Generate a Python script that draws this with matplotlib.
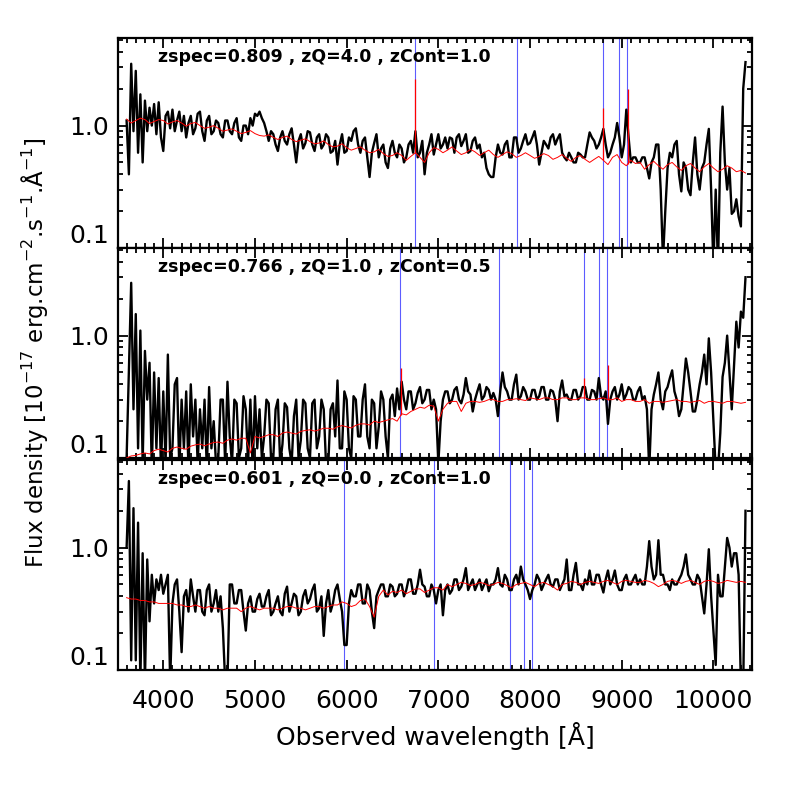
import numpy as np
import matplotlib
matplotlib.use("Agg")
import matplotlib.pyplot as plt
from matplotlib.ticker import FixedLocator, FixedFormatter, MultipleLocator, LogLocator, NullFormatter

# observed wavelength grids [A]
wave = np.arange(3600, 10375, 25)
model_wave = np.arange(3600, 10400, 50)

# rest wavelengths of the marked lines: [OII], Hgamma, Hbeta, [OIII] x2
line_rest = [3727, 4341, 4861, 4959, 5007]

zspec = [0.809, 0.766, 0.601]
zq = [4.0, 1.0, 0.0]
zcont = [1.0, 0.5, 1.0]

# panel 1: spectrum (black), 20 values per 500 A row
flux_top = [1.10, 0.40, 3.20, 0.90, 2.80, 0.60, 1.80, 0.50, 1.60, 0.90, 1.40, 1.00, 1.50, 0.85, 1.55, 0.80, 0.62, 1.20, 1.30, 0.95,
            1.35, 0.90, 1.10, 1.30, 0.90, 1.20, 0.80, 1.05, 1.20, 0.85, 0.95, 1.25, 1.30, 0.90, 0.75, 1.10, 1.20, 0.85, 0.90, 1.10,
            1.05, 0.85, 0.80, 1.10, 1.10, 0.90, 0.85, 1.05, 1.15, 0.80, 0.75, 1.00, 1.00, 0.85, 1.15, 1.00, 1.25, 1.20, 1.30, 1.15,
            1.05, 0.90, 0.75, 0.90, 0.85, 0.70, 0.62, 0.80, 0.90, 0.75, 0.70, 0.85, 0.95, 0.70, 0.50, 0.75, 0.85, 0.65, 0.72, 0.90,
            0.88, 0.70, 0.62, 0.80, 0.85, 0.65, 0.70, 0.85, 0.80, 0.60, 0.62, 0.75, 0.48, 0.70, 0.85, 0.60, 0.62, 0.80, 0.75, 0.90,
            0.95, 0.70, 0.60, 0.75, 0.80, 0.55, 0.38, 0.60, 0.72, 0.85, 0.55, 0.65, 0.70, 0.50, 0.45, 0.65, 0.75, 0.60, 0.55, 0.70,
            0.65, 0.50, 0.55, 0.70, 0.75, 0.60, 0.90, 0.55, 0.60, 0.75, 0.40, 0.60, 0.70, 0.85, 0.58, 0.70, 0.85, 0.65, 0.70, 0.80,
            0.65, 0.80, 0.78, 0.60, 0.80, 0.85, 0.68, 0.75, 0.85, 0.60, 0.62, 0.75, 0.80, 0.65, 0.70, 0.55, 0.60, 0.45, 0.40, 0.38,
            0.38, 0.55, 0.70, 0.60, 0.58, 0.70, 0.75, 0.55, 0.55, 0.80, 0.80, 0.60, 0.65, 0.75, 0.85, 0.70, 0.72, 0.80, 0.90, 0.70,
            0.48, 0.60, 0.75, 0.70, 0.65, 0.80, 0.85, 0.70, 0.78, 0.85, 0.60, 0.55, 0.52, 0.60, 0.55, 0.50, 0.50, 0.60, 0.58, 0.55,
            0.55, 0.70, 0.88, 0.80, 0.75, 0.65, 0.70, 0.80, 0.94, 0.70, 0.55, 0.60, 0.70, 0.80, 1.05, 0.80, 0.55, 0.70, 1.35, 0.80,
            0.50, 0.55, 0.55, 0.50, 0.50, 0.55, 0.55, 0.45, 0.37, 0.50, 0.55, 0.70, 0.70, 0.30, 0.08, 0.20, 0.45, 0.60, 0.55, 0.70,
            0.75, 0.40, 0.29, 0.50, 0.45, 0.30, 0.27, 0.50, 0.80, 0.40, 0.30, 0.45, 0.50, 0.70, 0.94, 0.30, 0.07, 0.30, 0.07, 0.60,
            1.43, 0.50, 0.30, 0.45, 0.19, 0.20, 0.25, 0.18, 0.15, 2.00, 3.30]
# panel 1: model (red), 10 values per 500 A row
model_top = [1.13, 1.05, 1.10, 1.15, 1.12, 1.04, 1.08, 1.12, 1.10, 1.03,
             1.07, 1.10, 1.05, 0.99, 1.04, 1.06, 1.00, 0.95, 0.97, 1.00,
             0.95, 0.90, 0.92, 0.94, 0.90, 0.86, 0.88, 0.91, 0.86, 0.83,
             0.82, 0.84, 0.80, 0.77, 0.80, 0.82, 0.77, 0.74, 0.76, 0.78,
             0.74, 0.71, 0.72, 0.75, 0.70, 0.67, 0.68, 0.71, 0.66, 0.63,
             0.65, 0.67, 0.63, 0.60, 0.61, 0.64, 0.59, 0.56, 0.57, 0.60,
             0.57, 0.52, 0.56, 0.60, 0.55, 0.50, 0.60, 0.66, 0.64, 0.60,
             0.63, 0.67, 0.62, 0.58, 0.60, 0.64, 0.61, 0.57, 0.60, 0.63,
             0.58, 0.55, 0.58, 0.61, 0.59, 0.55, 0.57, 0.60, 0.57, 0.54,
             0.56, 0.59, 0.57, 0.53, 0.55, 0.58, 0.54, 0.51, 0.55, 0.57,
             0.53, 0.50, 0.53, 0.56, 0.52, 0.48, 0.55, 0.58, 0.50, 0.47,
             0.52, 0.49, 0.50, 0.44, 0.48, 0.51, 0.47, 0.44, 0.48, 0.50,
             0.46, 0.43, 0.47, 0.49, 0.45, 0.42, 0.46, 0.49, 0.45, 0.42,
             0.44, 0.47, 0.45, 0.42, 0.43, 0.41]
peaks_top = [(6746, 2.4), (8800, 1.4), (9066, 2.0)]

# panel 2
flux_mid = [0.10, 0.50, 2.70, 0.25, 1.50, 0.12, 1.10, 0.09, 0.75, 0.30, 0.60, 0.08, 0.50, 0.12, 0.45, 0.08, 0.35, 0.09, 0.70, 0.10,
            0.12, 0.40, 0.45, 0.08, 0.30, 0.12, 0.35, 0.08, 0.40, 0.15, 0.30, 0.09, 0.25, 0.12, 0.30, 0.08, 0.38, 0.12, 0.20, 0.09,
            0.10, 0.30, 0.30, 0.09, 0.42, 0.15, 0.09, 0.30, 0.28, 0.10, 0.12, 0.32, 0.25, 0.09, 0.30, 0.08, 0.32, 0.12, 0.25, 0.10,
            0.15, 0.30, 0.28, 0.10, 0.10, 0.25, 0.30, 0.09, 0.13, 0.28, 0.26, 0.12, 0.09, 0.22, 0.30, 0.10, 0.14, 0.30, 0.28, 0.12,
            0.10, 0.28, 0.30, 0.12, 0.15, 0.30, 0.25, 0.09, 0.09, 0.25, 0.28, 0.15, 0.43, 0.12, 0.12, 0.35, 0.30, 0.12, 0.10, 0.32,
            0.30, 0.15, 0.15, 0.30, 0.40, 0.15, 0.12, 0.30, 0.28, 0.12, 0.18, 0.35, 0.30, 0.15, 0.10, 0.30, 0.33, 0.22, 0.37, 0.25,
            0.42, 0.30, 0.25, 0.35, 0.35, 0.25, 0.28, 0.34, 0.38, 0.28, 0.30, 0.36, 0.36, 0.25, 0.30, 0.25, 0.09, 0.20, 0.30, 0.35,
            0.35, 0.28, 0.30, 0.36, 0.38, 0.30, 0.28, 0.33, 0.45, 0.35, 0.33, 0.24, 0.30, 0.35, 0.40, 0.30, 0.32, 0.38, 0.36, 0.30,
            0.34, 0.30, 0.22, 0.35, 0.50, 0.38, 0.35, 0.30, 0.30, 0.40, 0.48, 0.30, 0.32, 0.38, 0.35, 0.30, 0.30, 0.36, 0.36, 0.30,
            0.32, 0.38, 0.38, 0.30, 0.30, 0.36, 0.35, 0.30, 0.20, 0.35, 0.43, 0.32, 0.33, 0.30, 0.30, 0.36, 0.36, 0.30, 0.32, 0.38,
            0.38, 0.30, 0.30, 0.36, 0.35, 0.30, 0.45, 0.32, 0.30, 0.35, 0.19, 0.30, 0.35, 0.38, 0.30, 0.33, 0.40, 0.30, 0.33, 0.38,
            0.36, 0.30, 0.30, 0.35, 0.38, 0.30, 0.32, 0.25, 0.08, 0.25, 0.33, 0.40, 0.50, 0.30, 0.25, 0.35, 0.38, 0.45, 0.52, 0.35,
            0.30, 0.22, 0.25, 0.40, 0.65, 0.50, 0.35, 0.24, 0.24, 0.30, 0.40, 0.50, 0.70, 0.40, 0.95, 0.50, 0.20, 0.08, 0.08, 0.16,
            0.46, 0.60, 1.00, 0.50, 0.25, 0.56, 1.30, 0.80, 1.57, 1.40, 3.00]
model_mid = [0.100, 0.104, 0.105, 0.108, 0.110, 0.108, 0.115, 0.118, 0.115, 0.112,
             0.120, 0.123, 0.120, 0.118, 0.125, 0.128, 0.130, 0.126, 0.130, 0.134,
             0.135, 0.132, 0.140, 0.143, 0.140, 0.145, 0.145, 0.110, 0.150, 0.146,
             0.150, 0.155, 0.155, 0.150, 0.160, 0.163, 0.160, 0.157, 0.165, 0.168,
             0.170, 0.166, 0.170, 0.175, 0.175, 0.172, 0.180, 0.184, 0.180, 0.176,
             0.185, 0.190, 0.190, 0.186, 0.200, 0.195, 0.200, 0.205, 0.210, 0.200,
             0.230, 0.225, 0.240, 0.250, 0.260, 0.255, 0.270, 0.265, 0.200, 0.250,
             0.280, 0.290, 0.290, 0.240, 0.280, 0.290, 0.290, 0.285, 0.290, 0.300,
             0.300, 0.290, 0.290, 0.300, 0.300, 0.305, 0.300, 0.295, 0.310, 0.305,
             0.300, 0.310, 0.310, 0.300, 0.300, 0.310, 0.310, 0.300, 0.300, 0.310,
             0.310, 0.300, 0.300, 0.305, 0.310, 0.300, 0.300, 0.310, 0.290, 0.300,
             0.300, 0.290, 0.290, 0.300, 0.280, 0.290, 0.290, 0.285, 0.290, 0.295,
             0.300, 0.290, 0.290, 0.285, 0.290, 0.295, 0.280, 0.290, 0.290, 0.285,
             0.280, 0.290, 0.290, 0.285, 0.280, 0.285]
peaks_mid = [(6590, 0.54), (8593, 0.45), (8848, 0.57)]

# panel 3
flux_bot = [1.00, 3.50, 0.12, 2.10, 0.12, 1.60, 0.08, 0.90, 0.08, 0.80, 0.25, 0.60, 0.35, 0.55, 0.45, 0.60, 0.42, 0.50, 0.60, 0.08,
            0.35, 0.50, 0.55, 0.30, 0.14, 0.40, 0.45, 0.30, 0.55, 0.40, 0.30, 0.45, 0.45, 0.30, 0.28, 0.45, 0.50, 0.30, 0.35, 0.45,
            0.30, 0.40, 0.22, 0.08, 0.08, 0.50, 0.50, 0.35, 0.35, 0.45, 0.45, 0.30, 0.21, 0.35, 0.40, 0.30, 0.30, 0.38, 0.42, 0.33,
            0.33, 0.40, 0.45, 0.28, 0.30, 0.35, 0.40, 0.30, 0.28, 0.42, 0.48, 0.30, 0.35, 0.42, 0.40, 0.28, 0.30, 0.40, 0.45, 0.35,
            0.38, 0.45, 0.50, 0.30, 0.32, 0.40, 0.19, 0.35, 0.45, 0.30, 0.35, 0.45, 0.50, 0.38, 0.30, 0.16, 0.16, 0.35, 0.45, 0.40,
            0.40, 0.50, 0.50, 0.35, 0.35, 0.50, 0.45, 0.30, 0.22, 0.40, 0.45, 0.50, 0.50, 0.40, 0.40, 0.50, 0.48, 0.40, 0.42, 0.50,
            0.50, 0.40, 0.45, 0.55, 0.55, 0.42, 0.42, 0.50, 0.66, 0.50, 0.48, 0.40, 0.40, 0.50, 0.45, 0.35, 0.45, 0.50, 0.28, 0.45,
            0.50, 0.42, 0.45, 0.55, 0.55, 0.45, 0.48, 0.55, 0.68, 0.45, 0.50, 0.55, 0.45, 0.50, 0.55, 0.45, 0.50, 0.55, 0.44, 0.50,
            0.50, 0.55, 0.68, 0.50, 0.48, 0.60, 0.55, 0.45, 0.45, 0.55, 0.60, 0.50, 0.70, 0.55, 0.50, 0.45, 0.38, 0.45, 0.50, 0.60,
            0.55, 0.45, 0.50, 0.55, 0.60, 0.50, 0.48, 0.55, 0.55, 0.45, 0.50, 0.55, 0.80, 0.45, 0.45, 0.60, 0.75, 0.50, 0.50, 0.45,
            0.55, 0.50, 0.65, 0.50, 0.50, 0.60, 0.60, 0.50, 0.43, 0.55, 0.65, 0.50, 0.55, 0.65, 0.50, 0.45, 0.45, 0.55, 0.60, 0.50,
            0.50, 0.55, 0.60, 0.50, 0.55, 0.50, 0.50, 0.70, 1.13, 0.70, 0.55, 0.60, 1.15, 0.60, 0.60, 0.50, 0.50, 0.45, 0.55, 0.50,
            0.50, 0.55, 0.60, 0.70, 0.88, 0.60, 0.55, 0.50, 0.50, 0.60, 0.55, 0.40, 0.29, 0.50, 0.97, 0.40, 0.21, 0.11, 0.60, 0.40,
            0.40, 0.70, 1.20, 1.00, 0.70, 0.90, 0.90, 0.60, 0.07, 0.07, 2.00]
model_bot = [0.39, 0.38, 0.38, 0.37, 0.37, 0.36, 0.36, 0.35, 0.35, 0.35,
             0.35, 0.34, 0.34, 0.33, 0.33, 0.34, 0.33, 0.32, 0.33, 0.32,
             0.32, 0.31, 0.32, 0.32, 0.32, 0.30, 0.32, 0.33, 0.32, 0.31,
             0.32, 0.32, 0.32, 0.31, 0.32, 0.33, 0.33, 0.32, 0.32, 0.31,
             0.32, 0.33, 0.33, 0.32, 0.33, 0.34, 0.34, 0.36, 0.35, 0.33,
             0.34, 0.37, 0.38, 0.33, 0.27, 0.40, 0.45, 0.41, 0.44, 0.43,
             0.45, 0.42, 0.44, 0.46, 0.46, 0.43, 0.45, 0.47, 0.47, 0.45,
             0.50, 0.48, 0.50, 0.52, 0.51, 0.49, 0.50, 0.52, 0.51, 0.49,
             0.50, 0.52, 0.51, 0.49, 0.47, 0.50, 0.51, 0.52, 0.50, 0.48,
             0.51, 0.52, 0.50, 0.48, 0.45, 0.50, 0.51, 0.53, 0.52, 0.50,
             0.52, 0.53, 0.52, 0.51, 0.53, 0.54, 0.52, 0.50, 0.53, 0.54,
             0.53, 0.52, 0.52, 0.54, 0.53, 0.51, 0.48, 0.50, 0.53, 0.54,
             0.53, 0.51, 0.53, 0.54, 0.52, 0.50, 0.53, 0.54, 0.53, 0.51,
             0.52, 0.54, 0.53, 0.52, 0.53, 0.52]
peaks_bot = []

fluxes = [flux_top, flux_mid, flux_bot]
models = [model_top, model_mid, model_bot]
peaks = [peaks_top, peaks_mid, peaks_bot]

fig = plt.figure(figsize=(7.89, 7.89), dpi=100)
left, width = 0.150, 0.803
bottoms = [0.6857, 0.4195, 0.1508]
height = 0.2662

for i in range(3):
    ax = fig.add_axes([left, bottoms[i], width, height])
    ax.set_yscale('log')

    # emission line markers
    for lr in line_rest:
        ax.axvline(lr * (1 + zspec[i]), color='#5c5cff', lw=0.8, zorder=1)

    n = min(len(wave), len(fluxes[i]))
    ax.plot(wave[:n], fluxes[i][:n], color='black', lw=1.7, zorder=2)
    m = min(len(model_wave), len(models[i]))
    ax.plot(model_wave[:m], models[i][:m], color='red', lw=0.7, zorder=3)
    for w, p in peaks[i]:
        base = np.interp(w, model_wave[:m], models[i][:m])
        ax.vlines(w, base, p, color='red', lw=0.9, zorder=3)

    ax.set_xlim(3510, 10420)
    ax.set_ylim(0.1, 5.2)

    ax.xaxis.set_major_locator(MultipleLocator(1000))
    ax.xaxis.set_minor_locator(MultipleLocator(100))
    ax.yaxis.set_major_locator(FixedLocator([0.1, 1.0]))
    ax.yaxis.set_major_formatter(FixedFormatter(['0.1', '1.0']))
    ax.yaxis.set_minor_locator(LogLocator(base=10, subs=np.arange(2, 10)))
    ax.yaxis.set_minor_formatter(NullFormatter())

    ax.tick_params(which='both', direction='in', top=True, right=True, width=1.3)
    ax.tick_params(which='major', length=7)
    ax.tick_params(which='minor', length=3.5)
    ax.tick_params(axis='y', which='major', labelsize=18, pad=7)
    ax.tick_params(axis='x', which='major', labelsize=18, pad=14)
    for lab in ax.get_yticklabels():
        if lab.get_text() == '0.1':
            lab.set_va('bottom')
    for s in ax.spines.values():
        s.set_linewidth(1.6)

    if i < 2:
        ax.tick_params(axis='x', labelbottom=False)
    else:
        ax.set_xlabel('Observed wavelength [Å]', fontsize=18, labelpad=6)

    ax.text(0.063, 0.91, 'zspec=%.3f , zQ=%.1f , zCont=%.1f' % (zspec[i], zq[i], zcont[i]),
            transform=ax.transAxes, fontsize=12.5, fontweight='bold', va='center', ha='left')

fig.text(0.044, 0.553, r'Flux density [10$^{-17}$ erg.cm$^{-2}$.s$^{-1}$.Å$^{-1}$]',
         rotation=90, fontsize=16.5, ha='center', va='center')

fig.savefig('out.png', dpi=100)
